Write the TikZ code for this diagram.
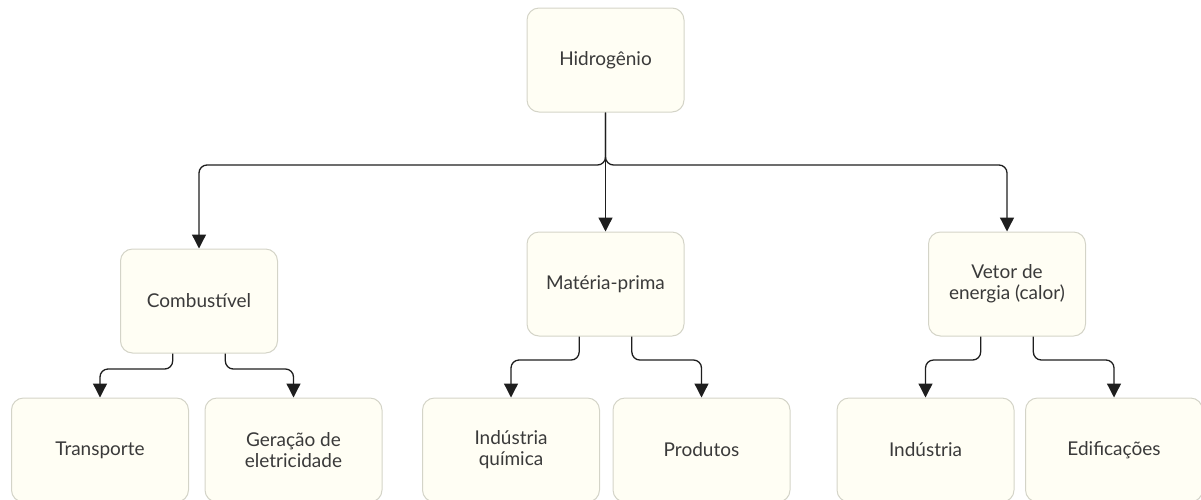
\documentclass[tikz,border=0pt]{standalone}
\usepackage{fontspec}
\setmainfont{Lato}
\usetikzlibrary{arrows.meta,calc}
\definecolor{boxfill}{HTML}{FFFEF4}
\definecolor{boxline}{HTML}{D4D4C8}
\definecolor{txt}{HTML}{3A3A3A}
\definecolor{wire}{HTML}{1E1E1E}
\tikzset{
  box/.style={draw=boxline, line width=1pt, fill=boxfill, rounded corners=12pt,
    minimum height=104pt, inner sep=2pt, align=center, text=txt,
    font=\fontsize{19}{21}\selectfont},
  topbox/.style={box, minimum width=157pt},
  leafbox/.style={box, minimum width=177pt},
  link/.style={draw=wire, line width=1.3pt, rounded corners=8pt,
    -{Triangle[width=14pt,length=14pt]}}
}
\begin{document}
\begin{tikzpicture}[x=1pt,y=-1pt]
\useasboundingbox (0,0) rectangle (1201,499);
\clip (0,0) rectangle (1201,499);

% root and the three uses
\node[topbox] (hid)  at (605.5,60)  {Hidrogênio};
\node[topbox] (comb) at (199,301)   {Combustível};
\node[topbox] (mat)  at (605.5,284) {Matéria-prima};
\node[topbox] (vet)  at (1007,284)  {Vetor de\\energia (calor)};

% applications (cut by the lower edge)
\node[leafbox] (trans) at (100,450)   {Transporte};
\node[leafbox] (ger)   at (293.5,450) {Geração de\\eletricidade};
\node[leafbox] (iq)    at (511,450)   {Indústria\\química};
\node[leafbox] (prod)  at (701.5,450) {Produtos};
\node[leafbox] (ind)   at (925.5,450) {Indústria};
\node[leafbox] (edif)  at (1114,450)  {Edificações};

% heights of the horizontal runs
\coordinate (ytop)  at (0,165);
\coordinate (ycomb) at (0,369);
\coordinate (ymat)  at (0,360);
\coordinate (yvet)  at (0,360);

% exit points at one and two thirds of each lower edge
\coordinate (c1) at ($(comb.south west)!1/3!(comb.south east)$);
\coordinate (c2) at ($(comb.south west)!2/3!(comb.south east)$);
\coordinate (m1) at ($(mat.south west)!1/3!(mat.south east)$);
\coordinate (m2) at ($(mat.south west)!2/3!(mat.south east)$);
\coordinate (v1) at ($(vet.south west)!1/3!(vet.south east)$);
\coordinate (v2) at ($(vet.south west)!2/3!(vet.south east)$);

% first level
\draw[link] (hid.south) -- (mat.north);
\draw[link] (hid.south) -- (hid.south |- ytop) -- (comb.north |- ytop) -- (comb.north);
\draw[link] (hid.south) -- (hid.south |- ytop) -- (vet.north |- ytop) -- (vet.north);

% second level
\draw[link] (c1) -- (c1 |- ycomb) -- (trans.north |- ycomb) -- (trans.north);
\draw[link] (c2) -- (c2 |- ycomb) -- (ger.north |- ycomb) -- (ger.north);
\draw[link] (m1) -- (m1 |- ymat) -- (iq.north |- ymat) -- (iq.north);
\draw[link] (m2) -- (m2 |- ymat) -- (prod.north |- ymat) -- (prod.north);
\draw[link] (v1) -- (v1 |- yvet) -- (ind.north |- yvet) -- (ind.north);
\draw[link] (v2) -- (v2 |- yvet) -- (edif.north |- yvet) -- (edif.north);
\end{tikzpicture}
\end{document}
